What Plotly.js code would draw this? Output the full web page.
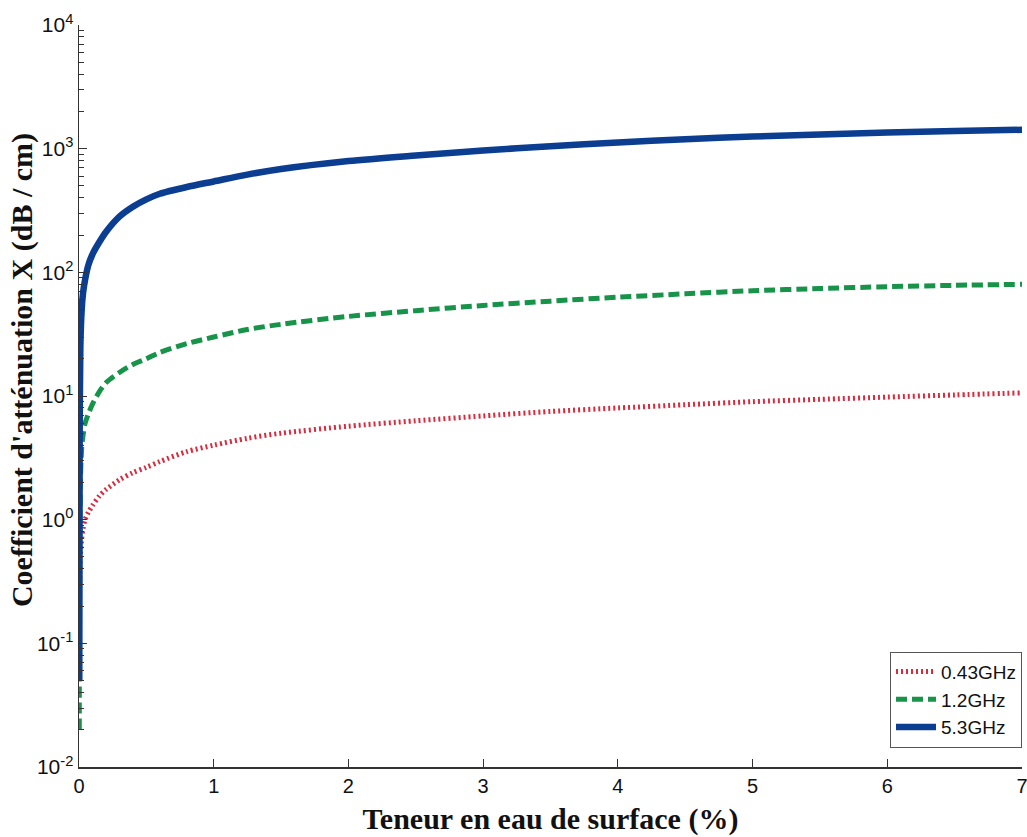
<!DOCTYPE html>
<html>
<head>
<meta charset="utf-8">
<script src="https://cdn.plot.ly/plotly-3.0.1.min.js"></script>
<style>html,body{margin:0;padding:0;background:#fff}#chart{width:1027px;height:837px}</style>
</head>
<body>
<div id="chart"></div>
<script>
// Surface water content (%)
const teneur = [0.002, 0.005, 0.01, 0.02, 0.03, 0.045, 0.07, 0.1, 0.15, 0.2, 0.3, 0.4, 0.5, 0.6, 0.8, 1, 1.25, 1.5, 2, 2.5, 3, 3.5, 4, 4.5, 5, 5.5, 6, 6.5, 7];
// Attenuation coefficient (dB/cm)
const att043 = [0.1, 0.3, 0.5, 0.7, 0.85, 1.0, 1.15, 1.3, 1.55, 1.75, 2.1, 2.4, 2.65, 2.95, 3.55, 4.0, 4.55, 5.0, 5.7, 6.3, 6.9, 7.5, 8.0, 8.5, 9.0, 9.4, 9.8, 10.2, 10.6];
const att12  = [0.02, 0.5, 2, 3.8, 4.8, 6, 7.2, 8.6, 10.8, 12.8, 15.5, 18, 20, 22.5, 26.5, 30, 34.5, 38, 44, 49, 54, 58.5, 63, 67, 71, 74, 76.5, 78.5, 80];
const att53  = [0.05, 5, 25, 50, 68, 87, 115, 140, 175, 212, 282, 339, 389, 432, 490, 543, 617, 684, 794, 881, 966, 1047, 1122, 1194, 1253, 1303, 1349, 1387, 1422];
const seriesNames = ["0.43GHz", "1.2GHz", "5.3GHz"];
const yTickVals = [0.01, 0.1, 1, 10, 100, 1000, 10000];
const yTickText = ["10<sup>-2</sup>", "10<sup>-1</sup>", "10<sup>0</sup>", "10<sup>1</sup>", "10<sup>2</sup>", "10<sup>3</sup>", "10<sup>4</sup>"];
const xTickVals = [0, 1, 2, 3, 4, 5, 6, 7];

// minor ticks 2..9 within each decade
const yMinor = [];
for (let d = 0; d < yTickVals.length - 1; d++) {
  for (let m = 2; m <= 9; m++) yMinor.push(yTickVals[d] * m);
}

const traces = [
  {x: teneur, y: att043, name: seriesNames[0], mode: "lines",
   line: {color: "#d62c3f", width: 5, dash: "2px,3px", shape: "spline", smoothing: 0.8}},
  {x: teneur, y: att12, name: seriesNames[1], mode: "lines",
   line: {color: "#17934a", width: 5, dash: "11px,5px", shape: "spline", smoothing: 0.8}},
  {x: teneur, y: att53, name: seriesNames[2], mode: "lines",
   line: {color: "#0b3d91", width: 6.5, shape: "spline", smoothing: 0.8}}
];

const layout = {
  width: 1027, height: 837,
  margin: {l: 79, r: 5, t: 25, b: 70},
  paper_bgcolor: "#fff", plot_bgcolor: "#fff",
  showlegend: true,
  legend: {x: 1, xanchor: "right", y: 0.026, yanchor: "bottom",
    bordercolor: "#555", borderwidth: 1, bgcolor: "#fff",
    font: {family: "Liberation Sans, Arial, sans-serif", size: 19, color: "#111"},
    itemwidth: 40, tracegroupgap: 0},
  xaxis: {
    range: [0, 7], tickvals: xTickVals, ticks: "inside", ticklen: 8,
    tickcolor: "#333", showline: true, linecolor: "#333", linewidth: 1.5,
    showgrid: false, zeroline: false, ticklabeloverflow: "allow",
    tickfont: {family: "Liberation Sans, Arial, sans-serif", size: 20, color: "#111"},
    title: {text: "Teneur en eau de surface (%)", standoff: 12,
      font: {family: "Liberation Serif, Times New Roman, serif", size: 30, color: "#111", weight: "bold"}}
  },
  yaxis: {
    type: "log", range: [-2, 4], tickvals: yTickVals, ticktext: yTickText,
    ticks: "inside", ticklen: 8, tickcolor: "#333",
    minor: {tickvals: yMinor, ticks: "inside", ticklen: 5, tickcolor: "#333", showgrid: false},
    showline: true, linecolor: "#333", linewidth: 1.5,
    showgrid: false, zeroline: false,
    tickfont: {family: "Liberation Sans, Arial, sans-serif", size: 21, color: "#111"}
  },
  annotations: [{
    text: "Coefficient d'atténuation X (dB / cm)", textangle: -90,
    xref: "paper", yref: "paper", x: -0.0604, y: 0.535,
    xanchor: "center", yanchor: "middle", showarrow: false,
    font: {family: "Liberation Serif, Times New Roman, serif", size: 30, color: "#111", weight: "bold"}
  }]
};

Plotly.newPlot("chart", traces, layout, {displayModeBar: false, staticPlot: true});
</script>
</body>
</html>
